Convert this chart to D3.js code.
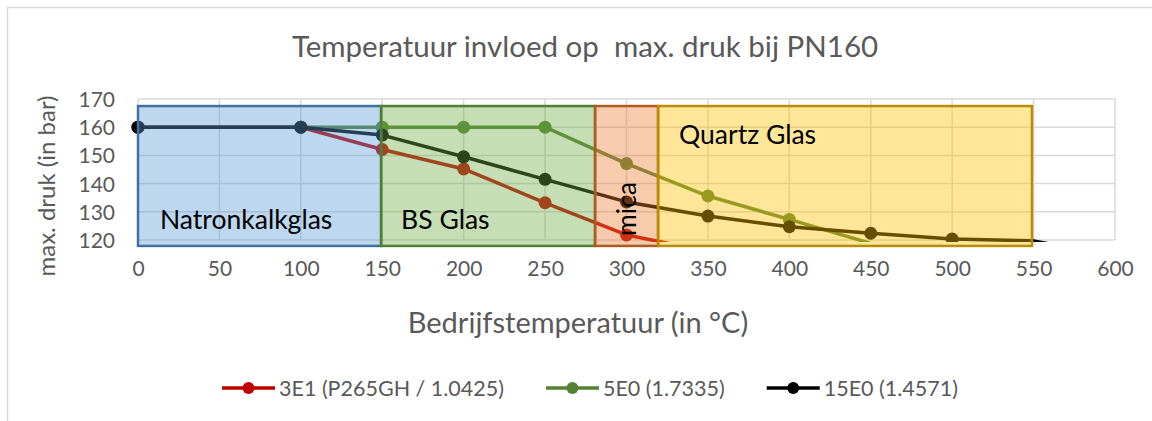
<!DOCTYPE html>
<html>
<head>
<meta charset="utf-8">
<script src="https://cdn.jsdelivr.net/npm/d3@7"></script>
<style>
  body { margin: 0; background: #fff; }
  text { font-family: Lato, "Open Sans", sans-serif; }
</style>
</head>
<body>
<svg id="chart" width="1152" height="421"></svg>
<script>
// temperatures (°C) on the x axis
const temps = [0, 100, 150, 200, 250, 300, 350, 400, 450, 500, 550, 600];

// max. pressure (bar) per series, null = no point
const p3E1 = [160, 160, 152.1, 145.2, 133.2, 121.8, 116, null, null, null, null, null];
const p5E0 = [160, 160, 160, 160, 160, 147.1, 135.6, 127.3, 118.8, null, null, null];
const p15E0 = [160, 160, 157.2, 149.5, 141.5, 133.5, 128.5, 124.7, 122.4, 120.35, 119.7, 114];

const seriesNames = ['3E1 (P265GH / 1.0425)', '5E0 (1.7335)', '15E0 (1.4571)'];
const seriesColors = ['#c00000', '#548235', '#000000'];

const xTicks = d3.range(0, 601, 50);
const yTicks = [120, 130, 140, 150, 160, 170];

// material zones drawn over the plot
const zoneNames = ['Natronkalkglas', 'BS Glas', 'mica', 'Quartz Glas'];
const zoneFrom = [0, 149.3, 280.7, 319.4];
const zoneTo = [149.3, 280.7, 319.4, 549];
const zoneFill = ['#5b9bd5', '#70ad47', '#ed7d31', '#ffc000'];
const zoneStroke = ['#41719c', '#507e32', '#ae5a21', '#bc8c00'];
const zoneTop = 167.5, zoneBottom = 117.9;

const svg = d3.select('#chart');
const x = d3.scaleLinear().domain([0, 600]).range([138, 1115]);
const y = d3.scaleLinear().domain([120, 170]).range([240, 99]);
const grey = '#595959';

// chart frame
svg.append('rect').attr('x', 7.5).attr('y', 7.5).attr('width', 1200).attr('height', 600)
    .attr('fill', '#fff').attr('stroke', '#d9d9d9').attr('stroke-width', 1.5);

// gridlines
svg.append('g').selectAll('line').data(yTicks).join('line')
    .attr('x1', x(0)).attr('x2', x(600))
    .attr('y1', d => y(d)).attr('y2', d => y(d))
    .attr('stroke', '#d9d9d9').attr('stroke-width', 1.5);
svg.append('g').selectAll('line').data(xTicks).join('line')
    .attr('x1', d => x(d)).attr('x2', d => x(d))
    .attr('y1', y(170)).attr('y2', y(120))
    .attr('stroke', '#d9d9d9').attr('stroke-width', 1.5);

// axes (labels only)
const yAxis = svg.append('g').attr('transform', `translate(${x(0) - 20},0)`)
    .call(d3.axisLeft(y).tickValues(yTicks).tickSize(0));
yAxis.select('.domain').remove();
yAxis.selectAll('text').attr('font-size', 21).attr('fill', grey)
    .style('font-family', 'Lato').attr('dy', '0.36em');

const xAxis = svg.append('g').attr('transform', `translate(0,${y(120) + 18})`)
    .call(d3.axisBottom(x).tickValues(xTicks).tickSize(0));
xAxis.select('.domain').remove();
xAxis.selectAll('text').attr('font-size', 21).attr('fill', grey)
    .style('font-family', 'Lato');

// series lines and markers, clipped to the plot area like Excel does
svg.append('clipPath').attr('id', 'plotClip').append('rect')
    .attr('x', x(0) - 10).attr('y', y(170) - 10)
    .attr('width', x(600) - x(0) + 20).attr('height', y(120) - y(170) + 12);

const allSeries = [p3E1, p5E0, p15E0];
const plot = svg.append('g').attr('clip-path', 'url(#plotClip)');
const line = d3.line().defined(d => d.v != null).x(d => x(d.t)).y(d => y(d.v));

allSeries.forEach((vals, i) => {
    const pts = temps.map((t, j) => ({ t, v: vals[j] }));
    plot.append('path').datum(pts)
        .attr('d', line)
        .attr('fill', 'none')
        .attr('stroke', seriesColors[i])
        .attr('stroke-width', 3.5)
        .attr('stroke-linejoin', 'round');
    // markers of points below the axis minimum are not drawn
    plot.append('g').selectAll('circle').data(pts.filter(d => d.v != null && d.v >= 120)).join('circle')
        .attr('cx', d => x(d.t)).attr('cy', d => y(d.v)).attr('r', 6.5)
        .attr('fill', seriesColors[i]);
});
// bottom of the clip just under the 120 line
d3.select('#plotClip rect').attr('height', y(120) - y(170) + 12);

// zone overlays
const zones = svg.append('g');
zoneNames.forEach((name, i) => {
    zones.append('rect')
        .attr('x', x(zoneFrom[i])).attr('y', y(zoneTop))
        .attr('width', x(zoneTo[i]) - x(zoneFrom[i]))
        .attr('height', y(zoneBottom) - y(zoneTop))
        .attr('fill', zoneFill[i]).attr('fill-opacity', 0.4)
        .attr('stroke', zoneStroke[i]).attr('stroke-width', 2.5);
});

const labelFont = 26.5;
zones.append('text').text(zoneNames[0])
    .attr('x', x(zoneFrom[0]) + 22).attr('y', 229).attr('font-size', labelFont).attr('fill', '#000');
zones.append('text').text(zoneNames[1])
    .attr('x', x(zoneFrom[1]) + 20).attr('y', 229).attr('font-size', labelFont).attr('fill', '#000');
zones.append('text').text(zoneNames[2])
    .attr('transform', `translate(${(x(zoneFrom[2]) + x(zoneTo[2])) / 2 + 9},${209}) rotate(-90)`)
    .attr('text-anchor', 'middle').attr('font-size', labelFont).attr('fill', '#000');
zones.append('text').text(zoneNames[3])
    .attr('x', x(zoneFrom[3]) + 21).attr('y', 144).attr('font-size', labelFont).attr('fill', '#000');

// titles
svg.append('text').text('Temperatuur invloed op\u00a0 max. druk bij PN160')
    .attr('x', 585).attr('y', 57).attr('text-anchor', 'middle')
    .attr('font-size', 29.5).attr('fill', grey);
svg.append('text').text('Bedrijfstemperatuur (in °C)')
    .attr('x', 578).attr('y', 333).attr('text-anchor', 'middle')
    .attr('font-size', 29).attr('fill', grey);
svg.append('text').text('max. druk (in bar)')
    .attr('transform', 'translate(55,186) rotate(-90)').attr('text-anchor', 'middle')
    .attr('font-size', 24).attr('fill', grey);

// legend
const legend = svg.append('g').attr('transform', 'translate(0,388)');
const items = legend.selectAll('g').data(seriesNames).join('g');
items.append('line').attr('x1', 0).attr('x2', 53).attr('y1', 0).attr('y2', 0)
    .attr('stroke', (d, i) => seriesColors[i]).attr('stroke-width', 3.5);
items.append('circle').attr('cx', 26.5).attr('cy', 0).attr('r', 6)
    .attr('fill', (d, i) => seriesColors[i]);
items.append('text').text(d => d).attr('x', 57).attr('dy', '0.35em')
    .attr('font-size', 21.5).attr('fill', grey);

let widths = [];
items.each(function () { widths.push(57 + this.querySelector('text').getComputedTextLength()); });
const gap = 42;
const total = d3.sum(widths) + gap * (widths.length - 1);
let cx = 590 - total / 2;
items.attr('transform', (d, i) => {
    const tx = cx;
    cx += widths[i] + gap;
    return `translate(${tx},0)`;
});
</script>
</body>
</html>
